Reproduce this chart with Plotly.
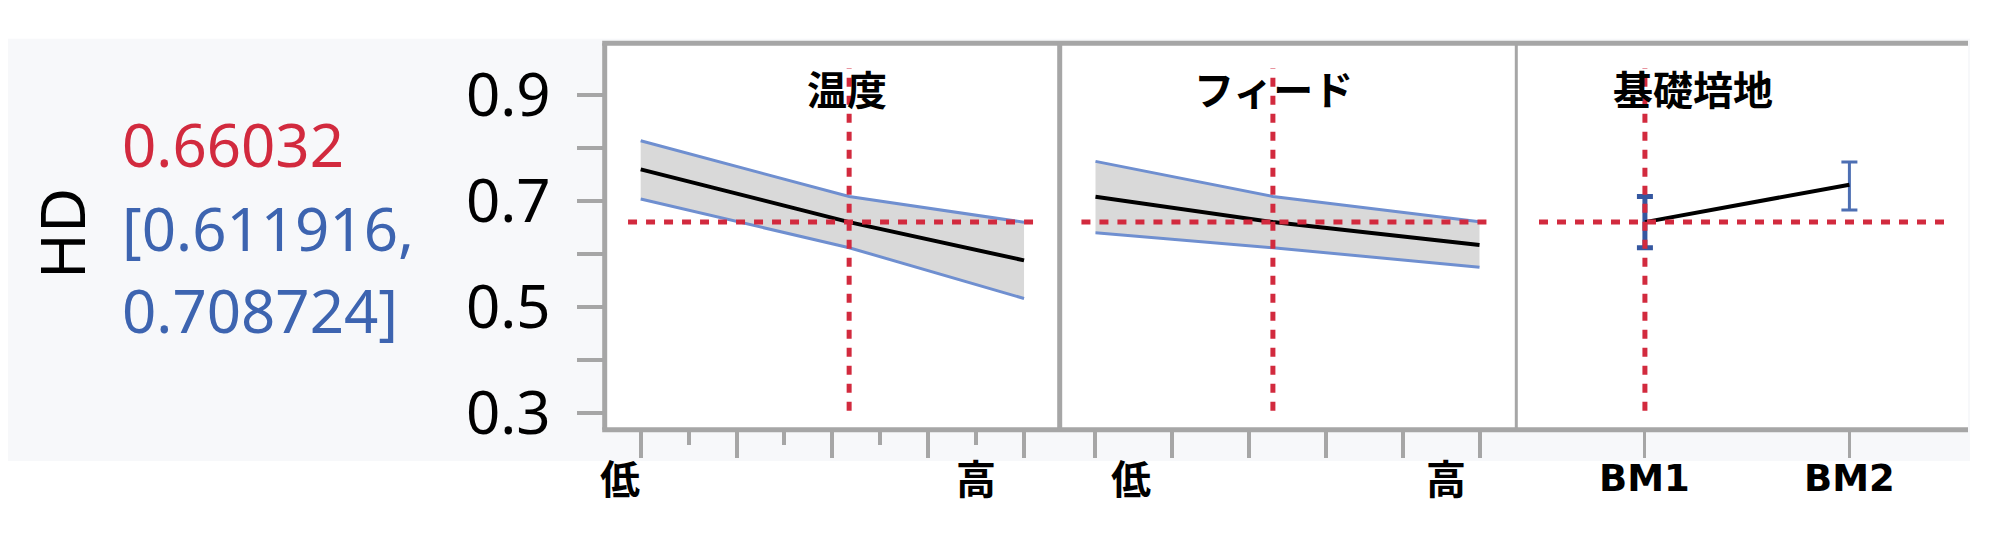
import plotly.graph_objects as go

W, H = 2000, 547

# ---------------- data ----------------
response_name = "HD"
pred_text = "0.66032"
ci_text = ["[0.611916,", "0.708724]"]
factor_titles = ["温度", "フィード", "基礎培地"]
level_labels = ["低", "高"]

pred_value = 0.66032

temp_x = [0, 4.35, 8]
temp_mean = [0.760, 0.6603, 0.588]
temp_upper = [0.814, 0.7087, 0.660]
temp_lower = [0.704, 0.6119, 0.516]
temp_current = 4.35

feed_x = [0, 2.31, 5]
feed_mean = [0.708, 0.6603, 0.617]
feed_upper = [0.775, 0.7087, 0.661]
feed_lower = [0.640, 0.6119, 0.575]
feed_current = 2.31

bm_x = [0, 1]
bm_labels = ["BM1", "BM2"]
bm_mean = [0.6603, 0.731]
bm_upper = [0.7087, 0.774]
bm_lower = [0.6119, 0.683]
bm_current = 0

y_tickvals = [0.3, 0.5, 0.7, 0.9]
y_ticktext = ["0.3", "0.5", "0.7", "0.9"]
y_minorvals = [0.4, 0.6, 0.8]

temp_label_x = [-0.43, 7.0]
feed_label_x = [0.46, 4.56]

# ---------------- styling / geometry ----------------
RED = "#d22a3e"
BLUE_TXT = "#3d64b0"
CI_BLUE = "#6f8fd0"
BAND = "#d9d9d9"
FRAME = "#a6a6a6"
BG = "#f7f8fa"
FONT = "Noto Sans"
CJK = "Noto Sans CJK JP"


def px(x):
    return x / W


def py(y):
    return 1 - y / H


frame_left, div1, div2, frame_right = 596.7, 1051.7, 1508.3, 1960.0
frame_top, frame_bottom = 36.7, 438.7
y_range = [0.2678, 0.9981]
x_ranges = [[-0.751, 8.744], [-0.466, 5.479], [-0.629, 1.580]]
hline_ext = [[-0.264, 8.26], [-0.183, 5.196], [-0.518, 1.493]]
vline_ext = [0.304, 0.951]
title_y = 0.913
title_x = [4.30, 2.32, 0.235]

fig = go.Figure()

dash_line = dict(color=RED, width=5, dash="9px,9px")


def add_refs(xa, ya, cur, k):
    fig.add_trace(go.Scatter(x=hline_ext[k], y=[pred_value, pred_value], mode="lines",
                             line=dash_line, xaxis=xa, yaxis=ya, showlegend=False, hoverinfo="skip"))
    fig.add_trace(go.Scatter(x=[cur, cur], y=vline_ext, mode="lines",
                             line=dash_line, xaxis=xa, yaxis=ya, showlegend=False, hoverinfo="skip"))


def add_band(x, lo, hi, mean, xa, ya, cur, k):
    fig.add_trace(go.Scatter(x=x, y=hi, mode="lines", line=dict(color=CI_BLUE, width=3),
                             xaxis=xa, yaxis=ya, showlegend=False, hoverinfo="skip"))
    fig.add_trace(go.Scatter(x=x, y=lo, mode="lines", line=dict(color=CI_BLUE, width=3),
                             fill="tonexty", fillcolor=BAND,
                             xaxis=xa, yaxis=ya, showlegend=False, hoverinfo="skip"))
    fig.add_trace(go.Scatter(x=x, y=mean, mode="lines", line=dict(color="black", width=4),
                             xaxis=xa, yaxis=ya, showlegend=False, hoverinfo="skip"))
    add_refs(xa, ya, cur, k)


add_band(temp_x, temp_lower, temp_upper, temp_mean, "x", "y", temp_current, 0)
add_band(feed_x, feed_lower, feed_upper, feed_mean, "x2", "y2", feed_current, 1)

# panel 3: categorical levels with interval bars
bar_styles = [("#3557a0", 5), ("#4d6fb3", 3)]
for i in range(2):
    fig.add_trace(go.Scatter(
        x=[bm_x[i]], y=[bm_mean[i]], mode="markers", marker=dict(size=1, opacity=0),
        error_y=dict(type="data", symmetric=False,
                     array=[bm_upper[i] - bm_mean[i]], arrayminus=[bm_mean[i] - bm_lower[i]],
                     color=bar_styles[i][0], thickness=bar_styles[i][1], width=8),
        xaxis="x3", yaxis="y3", showlegend=False, hoverinfo="skip"))
fig.add_trace(go.Scatter(x=bm_x, y=bm_mean, mode="lines", line=dict(color="black", width=4),
                         xaxis="x3", yaxis="y3", showlegend=False, hoverinfo="skip"))
add_refs("x3", "y3", bm_current, 2)

# ---------------- axes ----------------
doms = [[px(frame_left), px(div1)], [px(div1), px(div2)], [px(div2), px(frame_right)]]
ydom = [py(frame_bottom), py(frame_top)]

common_x = dict(showgrid=False, zeroline=False, showline=False, showticklabels=False,
                ticks="outside", ticklen=27, tickwidth=4, tickcolor=FRAME, fixedrange=True)

fig.update_layout(
    xaxis=dict(domain=doms[0], range=x_ranges[0], tickmode="array", tickvals=[0, 2, 4, 6, 8],
               minor=dict(tickmode="array", tickvals=[1, 3, 5, 7], ticks="outside", ticklen=14,
                          tickwidth=4, tickcolor=FRAME), anchor="y", **common_x),
    xaxis2=dict(domain=doms[1], range=x_ranges[1], tickmode="array", tickvals=[0, 1, 2, 3, 4, 5],
                anchor="y2", **common_x),
    xaxis3=dict(domain=doms[2], range=x_ranges[2], tickmode="array", tickvals=bm_x,
                anchor="y3", **{**common_x, "tickwidth": 3}),
    yaxis=dict(domain=ydom, range=y_range, tickmode="array", tickvals=y_tickvals, ticktext=y_ticktext,
               ticks="outside", ticklen=27, tickwidth=4, tickcolor=FRAME,
               minor=dict(tickmode="array", tickvals=y_minorvals, ticks="outside", ticklen=27,
                          tickwidth=4, tickcolor=FRAME),
               tickfont=dict(family=FONT, size=60, color="black"), ticklabelstandoff=14,
               showgrid=False, zeroline=False, showline=False, anchor="x", fixedrange=True),
    yaxis2=dict(domain=ydom, range=y_range, showticklabels=False, ticks="", showgrid=False,
                zeroline=False, showline=False, anchor="x2", matches="y"),
    yaxis3=dict(domain=ydom, range=y_range, showticklabels=False, ticks="", showgrid=False,
                zeroline=False, showline=False, anchor="x3", matches="y"),
)

# ---------------- shapes (background + frame) ----------------
shapes = [
    dict(type="rect", xref="paper", yref="paper", x0=0, x1=px(1962), y0=py(471), y1=py(32),
         fillcolor=BG, line=dict(width=0), layer="below"),
    dict(type="rect", xref="paper", yref="paper", x0=px(frame_left), x1=px(frame_right),
         y0=py(frame_bottom), y1=py(frame_top), fillcolor="white", line=dict(width=0), layer="below"),
    dict(type="line", xref="paper", yref="paper", x0=px(frame_left - 2.5), x1=px(frame_right),
         y0=py(frame_top), y1=py(frame_top), line=dict(color=FRAME, width=5)),
    dict(type="line", xref="paper", yref="paper", x0=px(frame_left - 2.5), x1=px(frame_right),
         y0=py(frame_bottom), y1=py(frame_bottom), line=dict(color=FRAME, width=5)),
    dict(type="line", xref="paper", yref="paper", x0=px(frame_left), x1=px(frame_left),
         y0=py(frame_bottom), y1=py(frame_top), line=dict(color=FRAME, width=5)),
    dict(type="line", xref="paper", yref="paper", x0=px(div1), x1=px(div1),
         y0=py(frame_bottom), y1=py(frame_top), line=dict(color=FRAME, width=5)),
    dict(type="line", xref="paper", yref="paper", x0=px(div2), x1=px(div2),
         y0=py(frame_bottom), y1=py(frame_top), line=dict(color=FRAME, width=3)),
]

# ---------------- annotations ----------------
ann = []
ann.append(dict(text=response_name, xref="paper", yref="paper", x=px(53), y=py(235),
                xanchor="center", yanchor="middle", textangle=-90, showarrow=False,
                font=dict(family=FONT, size=62, color="black")))
ann.append(dict(text=pred_text, xref="paper", yref="paper", x=px(112), y=py(141),
                xanchor="left", yanchor="middle", showarrow=False,
                font=dict(family=FONT, size=60, color=RED)))
for i, t in enumerate(ci_text):
    ann.append(dict(text=t, xref="paper", yref="paper", x=px(112), y=py(229 + 85 * i),
                    xanchor="left", yanchor="middle", showarrow=False,
                    font=dict(family=FONT, size=60, color=BLUE_TXT)))

for k, (xa, ya) in enumerate([("x", "y"), ("x2", "y2"), ("x3", "y3")]):
    ann.append(dict(text=factor_titles[k], xref=xa, yref=ya, x=title_x[k], y=title_y,
                    xanchor="center", yanchor="middle", showarrow=False,
                    font=dict(family=CJK, size=40, color="black", weight="bold")))

for xa, xs in [("x", temp_label_x), ("x2", feed_label_x)]:
    for lab, xv in zip(level_labels, xs):
        ann.append(dict(text=lab, xref=xa, yref="paper", x=xv, y=py(488),
                        xanchor="center", yanchor="middle", showarrow=False,
                        font=dict(family=CJK, size=40, color="black", weight="bold")))
for lab, xv in zip(bm_labels, bm_x):
    ann.append(dict(text=lab, xref="x3", yref="paper", x=xv, y=py(489),
                    xanchor="center", yanchor="middle", showarrow=False,
                    font=dict(family="DejaVu Sans", size=37, color="black", weight="bold")))

fig.update_layout(
    width=W, height=H, autosize=False,
    margin=dict(l=0, r=0, t=0, b=0, pad=0),
    paper_bgcolor="white", plot_bgcolor="rgba(0,0,0,0)",
    shapes=shapes, annotations=ann, showlegend=False,
)

fig.write_html("out.html", config={"displayModeBar": False})
